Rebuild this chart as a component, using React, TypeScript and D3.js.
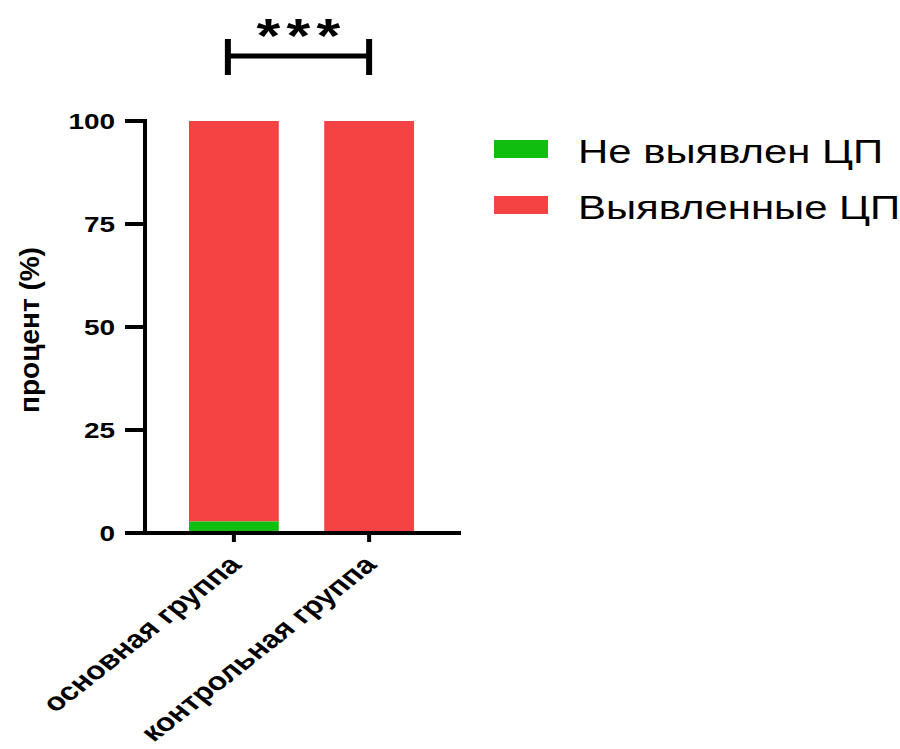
import React from "react";
import * as d3 from "d3";

const categories = ["основная группа", "контрольная группа"];
const notDetected = [2.8, 0];
const detected = [97.2, 100];
const seriesNames = ["Не выявлен ЦП", "Выявленные ЦП"];
const seriesColors = ["#10BE10", "#F54242"];
const yTicks = [0, 25, 50, 75, 100];
const yLabel = "процент (%)";
const significance = "***";

const SX = 1.27; // horizontal stretch of the text in the reference

export default function App() {
  const W = 900, H = 749;
  const y = d3.scaleLinear().domain([0, 100]).range([533, 121]);
  const x = d3.scaleBand().domain(categories).range([166.25, 436.75]).paddingInner(0.336).paddingOuter(0.168);
  const font = "'Liberation Sans', Arial, sans-serif";
  const stack = categories.map((c, i) => ({ c, a: notDetected[i], b: detected[i] }));
  const x1 = (x(categories[0]) as number) + x.bandwidth() / 2;
  const x2 = (x(categories[1]) as number) + x.bandwidth() / 2;
  return (
    <svg width={W} height={H} style={{ position: "absolute", left: 0, top: 0, background: "#fff" }} fontFamily={font}>
      {stack.map((d) => (
        <g key={d.c}>
          <rect x={x(d.c)} width={x.bandwidth()} y={y(d.a + d.b)} height={y(d.a) - y(d.a + d.b)} fill={seriesColors[1]} />
          <rect x={x(d.c)} width={x.bandwidth()} y={y(d.a)} height={y(0) - y(d.a)} fill={seriesColors[0]} />
        </g>
      ))}
      {/* y axis */}
      <line x1={145} x2={145} y1={y(100) - 2} y2={y(0) + 2} stroke="#000" strokeWidth={4} />
      {yTicks.map((t) => (
        <g key={t}>
          <line x1={125} x2={145} y1={y(t)} y2={y(t)} stroke="#000" strokeWidth={4} />
          <text transform={`translate(115,${y(t)}) scale(${SX},1)`} dy="0.36em" textAnchor="end" fontSize={22} fontWeight="bold">{t}</text>
        </g>
      ))}
      {/* x axis */}
      <line x1={125} x2={461} y1={y(0)} y2={y(0)} stroke="#000" strokeWidth={4} />
      {categories.map((c) => {
        const cx = (x(c) as number) + x.bandwidth() / 2;
        return (
          <g key={c}>
            <line x1={cx} x2={cx} y1={y(0)} y2={y(0) + 9} stroke="#000" strokeWidth={4} />
            <text transform={`translate(${cx + 1},${y(0) + 27}) scale(${SX},1) rotate(-45)`} textAnchor="end" dy="0.35em" fontSize={25} fontWeight="bold">{c}</text>
          </g>
        );
      })}
      <text transform={`translate(29,330) rotate(-90)`} textAnchor="middle" dy="0.35em" fontSize={28} fontWeight="bold">{yLabel}</text>
      {/* significance bracket */}
      <line x1={x1 - 6} x2={x2} y1={56} y2={56} stroke="#000" strokeWidth={5} />
      <line x1={x1 - 6} x2={x1 - 6} y1={39} y2={75} stroke="#000" strokeWidth={6} />
      <line x1={x2} x2={x2} y1={39} y2={75} stroke="#000" strokeWidth={6} />
      <text transform={`translate(${(x1 + x2) / 2},52) scale(${SX},1)`} textAnchor="middle" fontSize={48} fontWeight="bold" letterSpacing={5}>{significance}</text>
      {/* legend */}
      {seriesNames.map((n, i) => (
        <g key={n} transform={`translate(494,${140 + i * 56})`}>
          <rect width={54} height={18} fill={seriesColors[i]} />
          <text transform={`translate(84,11) scale(${SX},1)`} dy="0.36em" fontSize={33}>{n}</text>
        </g>
      ))}
    </svg>
  );
}
